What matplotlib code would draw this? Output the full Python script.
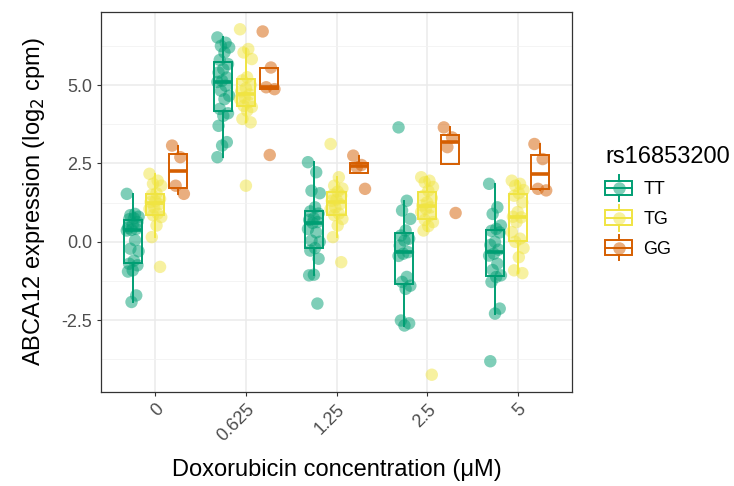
import numpy as np
import matplotlib.pyplot as plt
from matplotlib.patches import Rectangle
from matplotlib.lines import Line2D
from matplotlib.legend_handler import HandlerBase

plt.rcParams['font.family'] = ['Liberation Sans', 'DejaVu Sans']

# doxorubicin concentrations (x categories) and genotypes
concentrations = ["0", "0.625", "1.25", "2.5", "5"]
genotypes = ["TT", "TG", "GG"]
colors = ["#009E73", "#F0E442", "#D55E00"]

# ABCA12 expression (log2 cpm), one list per concentration
tt_values = [
    [1.53, 0.89, 0.85, 0.80, 0.75, 0.72, 0.63, 0.55, 0.45, 0.41, 0.38, 0.36, 0.05,
     -0.22, -0.30, -0.60, -0.70, -0.75, -0.91, -0.95, -1.71, -1.92],
    [6.52, 6.35, 6.25, 6.20, 6.04, 5.80, 5.67, 5.51, 5.40, 5.24, 5.14, 5.10, 4.98,
     4.82, 4.66, 4.55, 4.24, 4.10, 4.02, 3.70, 3.18, 3.07, 2.70],
    [2.54, 2.22, 1.63, 1.55, 1.10, 0.97, 0.90, 0.75, 0.70, 0.63, 0.60, 0.41, 0.30,
     0.04, 0.00, -0.20, -0.28, -0.54, -1.05, -1.07, -1.97],
    [3.65, 1.31, 1.00, 0.73, 0.36, 0.20, 0.10, 0.04, -0.12, -0.33, -0.38, -0.45,
     -1.12, -1.28, -1.40, -1.50, -2.51, -2.60, -2.67],
    [1.85, 1.10, 0.89, 0.52, 0.41, 0.35, 0.30, 0.00, -0.10, -0.25, -0.38, -0.44,
     -0.70, -0.90, -1.07, -1.12, -1.28, -2.13, -2.29, -3.81],
]
tg_values = [
    [2.17, 1.95, 1.85, 1.79, 1.55, 1.50, 1.37, 1.30, 1.27, 1.20, 1.10, 1.05, 0.90,
     0.85, 0.79, 0.52, 0.15, -0.80],
    [6.78, 6.15, 6.04, 5.83, 5.25, 5.15, 5.00, 4.90, 4.80, 4.70, 4.60, 4.55, 4.45,
     4.34, 4.30, 4.18, 3.92, 3.81, 1.79],
    [3.12, 2.06, 1.79, 1.70, 1.60, 1.50, 1.47, 1.35, 1.31, 1.20, 1.10, 1.05, 0.90,
     0.85, 0.73, 0.52, 0.15, -0.65],
    [2.06, 1.95, 1.90, 1.75, 1.63, 1.47, 1.40, 1.26, 1.16, 1.10, 1.05, 0.95, 0.84,
     0.70, 0.63, 0.50, 0.36, -4.24],
    [1.95, 1.85, 1.79, 1.65, 1.55, 1.47, 1.26, 0.95, 0.80, 0.78, 0.63, 0.31, 0.10,
     0.00, -0.20, -0.49, -0.91, -1.00],
]
gg_values = [
    [3.07, 2.70, 1.79, 1.53],
    [6.71, 5.56, 4.93, 4.87, 2.77],
    [2.75, 2.45, 2.38, 1.69],
    [3.65, 3.33, 3.02, 0.92],
    [3.12, 2.64, 1.69, 1.64],
]
all_values = [tt_values, tg_values, gg_values]


class BoxKey(HandlerBase):
    # legend key: box + median + whisker stubs + point, like ggplot
    def create_artists(self, legend, orig_handle, xdescent, ydescent,
                       width, height, fontsize, trans):
        col = orig_handle.get_color()
        x0, y0 = -xdescent, -ydescent
        cx, cy = x0 + width / 2, y0 + height / 2
        bh = height * 0.75
        rect = Rectangle((x0, cy - bh / 2), width, bh, facecolor='none',
                         edgecolor=col, linewidth=1.4, transform=trans)
        med = Line2D([x0, x0 + width], [cy, cy], color=col, lw=1.4, transform=trans)
        top = Line2D([cx, cx], [cy + bh / 2, y0 + height * 1.15], color=col,
                     lw=1.4, transform=trans)
        bot = Line2D([cx, cx], [cy - bh / 2, y0 - height * 0.15], color=col,
                     lw=1.4, transform=trans)
        pt = Line2D([cx], [cy], marker='o', markersize=9, color=col, alpha=0.5,
                    markeredgecolor='none', linestyle='none', transform=trans)
        return [rect, med, top, bot, pt]


fig = plt.figure(figsize=(7.34, 4.86), dpi=100)
ax = fig.add_axes([101/734, 1 - 392/486, 471/734, 380/486])

dodge = [-0.25, 0.0, 0.25]
box_w = 0.2

for g, (vals, col) in enumerate(zip(all_values, colors)):
    pos = [i + dodge[g] for i in range(len(concentrations))]
    ax.boxplot(vals, positions=pos, widths=box_w, showfliers=False, whis=1.5,
               patch_artist=True, manage_ticks=False,
               boxprops=dict(facecolor='none', edgecolor=col, linewidth=1.4),
               whiskerprops=dict(color=col, linewidth=1.4),
               capprops=dict(linewidth=0),
               medianprops=dict(color=col, linewidth=2.6), zorder=3)
    for i, v in enumerate(vals):
        n = len(v)
        # small deterministic horizontal jitter
        jit = (((np.arange(n) * 7) % 11) - 5) / 5 * 0.065
        ax.scatter(pos[i] + jit, v, s=80, color=col, alpha=0.5,
                   edgecolors='none', zorder=4)

ymin = min(min(min(v) for v in vals) for vals in all_values)
ymax = max(max(max(v) for v in vals) for vals in all_values)
pad = (ymax - ymin) * 0.05
ax.set_ylim(ymin - pad, ymax + pad)
ax.set_xlim(-0.6, len(concentrations) - 0.4)

ax.set_yticks([-2.5, 0, 2.5, 5.0])
ax.set_yticklabels(["-2.5", "0.0", "2.5", "5.0"])
ax.set_yticks([-3.75, -1.25, 1.25, 3.75, 6.25], minor=True)
ax.set_xticks(range(len(concentrations)))
ax.set_xticklabels(concentrations, rotation=45, ha='right', rotation_mode='anchor')

ax.grid(True, which='major', color='#ebebeb', linewidth=1.1, zorder=0)
ax.grid(True, which='minor', axis='y', color='#f2f2f2', linewidth=0.6, zorder=0)
ax.set_axisbelow(True)
ax.tick_params(which='minor', length=0)
ax.tick_params(which='major', length=3, width=0.8, color='#333333',
               labelsize=13, labelcolor='#4d4d4d')
for s in ax.spines.values():
    s.set_color('#333333')
    s.set_linewidth(0.9)

ax.set_xlabel("Doxorubicin concentration (\u03bcM)", fontsize=17, labelpad=10)
ax.set_ylabel("ABCA12 expression (log$_2$ cpm)", fontsize=17, labelpad=10)

handles = [Line2D([], [], color=c) for c in colors]
fig.legend(handles, genotypes, title="rs16853200", loc='upper left',
           bbox_to_anchor=(598/734, 1 - 139/486), frameon=False,
           fontsize=13, title_fontsize=17, handler_map={Line2D: BoxKey()},
           handlelength=1.5, handleheight=1.3, handletextpad=0.6,
           labelspacing=0.55, alignment='left', borderaxespad=0)

fig.savefig("out.png", dpi=100)
